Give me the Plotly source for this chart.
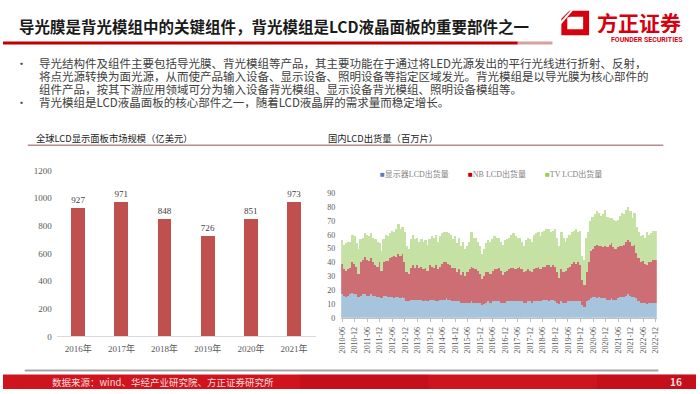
import plotly.graph_objects as go

W, H = 700, 394
def px(x): return x / W
def py(y): return 1 - y / H

# ---------------- data ----------------
years = ["2016年", "2017年", "2018年", "2019年", "2020年", "2021年"]
market = [927, 971, 848, 726, 851, 973]

all_months = [f"{y}-{m:02d}" for y in range(2010, 2023) for m in range(1, 13)]
months = all_months[all_months.index("2010-06"):all_months.index("2022-12") + 1]
tick_months = months[::6]

monitor = [17,16,15,16,17,18, 17,17,15,16,17,17, 16,16,17,16,16,15, 15,14,16,16,15,15,
           15,14,15,15,14,15, 14,12,12,13,13,13, 13,13,13,12,13,12, 13,13,13,12,12,13,
           13,13,14,13,13,12, 12,12,12,11,11,11, 11,11,12,11,11,11, 11,9,10,11,12,11,
           12,12,12,12,11,11, 11,12,12,12,12,12, 12,12,12,11,11,12, 12,11,12,12,12,12,
           13,13,13,12,13,13, 12,11,10,12,11,11, 12,12,12,12,12,12, 12,9,8,12,13,14,
           15,15,14,15,14,14, 14,13,13,14,13,13, 14,15,15,15,16,17, 16,15,15,14,12,11,
           11,11,10,11,11,11, 11]
nb = [22,19,19,19,19,22, 22,20,17,24,25,27, 26,25,26,24,22,22, 25,20,24,25,26,28,
      29,31,29,31,31,31, 26,21,20,23,25,23, 25,23,24,23,23,22, 25,24,23,26,23,24,
      26,27,26,26,25,24, 24,21,23,20,22,19, 22,24,25,25,24,23, 21,19,20,22,21,21,
      22,23,23,24,23,20, 22,22,23,24,24,23, 24,25,23,22,23,23, 22,22,23,24,25,23,
      24,24,25,26,24,25, 25,22,19,23,22,23, 24,25,27,28,27,28, 26,18,16,21,27,34,
      35,37,39,37,38,37, 38,38,40,40,38,37, 37,37,37,38,39,39, 39,37,38,33,31,29,
      30,28,28,29,29,31, 31]
tv = [17,18,20,20,19,20, 20,17,18,17,16,17, 18,18,18,18,19,18, 14,14,17,19,18,18,
      19,17,20,22,19,20, 22,19,18,21,22,21, 20,19,20,20,20,19, 19,22,22,22,20,22,
      22,22,22,22,22,21, 23,21,23,21,22,20, 19,20,25,22,23,21, 20,18,20,21,23,23,
      23,24,23,22,21,22, 23,23,23,24,25,24, 22,21,20,19,22,23, 23,22,25,25,25,24,
      25,26,26,26,25,25, 27,25,23,27,25,21, 22,23,23,23,25,22, 25,18,18,25,22,22,
      23,23,24,24,22,24, 26,22,19,18,20,20, 20,22,24,22,23,24, 22,20,23,19,19,19,
      19,19,24,20,21,21, 21]

series_names = ["显示器LCD出货量", "NB LCD出货量", "TV LCD出货量"]
series_values = [monitor, nb, tv]
legend_colors = ["#4f81bd", "#c00000", "#92d050"]
bar_colors = ["#a6c4dc", "#cc6e74", "#c6e1a4"]

# ---------------- styles ----------------
serif = "Liberation Serif, Noto Sans CJK SC, serif"
sans = "Noto Sans CJK SC, sans-serif"

fig = go.Figure()

fig.add_trace(go.Bar(
    x=years, y=market, width=0.32, marker=dict(color="#c0504d", line=dict(width=0)),
    text=market, textposition="outside", cliponaxis=False,
    textfont=dict(family=serif, size=9.5, color="#404040"),
    xaxis="x", yaxis="y", showlegend=False, hoverinfo="x+y"))

for name, vals, col in zip(series_names, series_values, bar_colors):
    fig.add_trace(go.Bar(
        x=months, y=vals, name=name, marker=dict(color=col, line=dict(width=0)),
        xaxis="x2", yaxis="y2", showlegend=False))

fig.update_layout(
    width=W, height=H, margin=dict(l=0, r=0, t=0, b=0),
    paper_bgcolor="white", plot_bgcolor="white",
    barmode="stack", bargap=0.15,
    xaxis=dict(domain=[px(54.2), px(315.8)], anchor="y", showgrid=False, showline=True,
               linecolor="#d9d9d9", linewidth=1, ticks="", ticklabelstandoff=4,
               tickfont=dict(family=serif, size=9, color="#595959")),
    yaxis=dict(domain=[py(340), py(170)], anchor="x", range=[0, 1200], dtick=200,
               showgrid=False, zeroline=False, showline=False, ticks="",
               ticklabelstandoff=4,
               tickfont=dict(family=serif, size=9, color="#595959")),
    xaxis2=dict(domain=[px(341.6), px(660.4)], anchor="y2", type="category",
                showgrid=False, showline=True, linecolor="#bfbfbf", linewidth=1,
                ticks="outside", ticklen=3, tickcolor="#bfbfbf", ticklabelstandoff=2,
                tickvals=tick_months, ticktext=tick_months, tickangle=-90,
                tickfont=dict(family=serif, size=8, color="#595959")),
    yaxis2=dict(domain=[py(320.9), py(193.3)], anchor="x2", range=[0, 90], dtick=10,
                showgrid=False, zeroline=False, showline=False, ticks="",
                ticklabelstandoff=5,
                tickfont=dict(family=serif, size=8, color="#595959")),
)

shapes = []
# title underline (red fading to grey)
shapes.append(dict(type="line", xref="paper", yref="paper", x0=px(0), x1=px(520),
                   y0=py(39), y1=py(39), line=dict(color="#c00000", width=3)))
shapes.append(dict(type="line", xref="paper", yref="paper", x0=px(520), x1=px(555),
                   y0=py(39), y1=py(39), line=dict(color="#d9a0a0", width=3)))
# chart title underline
shapes.append(dict(type="line", xref="paper", yref="paper", x0=px(25), x1=px(667),
                   y0=py(144), y1=py(144), line=dict(color="#b48c8c", width=1.5)))
# bottom grey line
shapes.append(dict(type="line", xref="paper", yref="paper", x0=px(22), x1=px(662),
                   y0=py(375), y1=py(375), line=dict(color="#a6a6a6", width=2)))
# red footer band
shapes.append(dict(type="rect", xref="paper", yref="paper", x0=0, x1=1,
                   y0=0, y1=py(379), fillcolor="#d0141e", line=dict(width=0), layer="below"))
shapes.append(dict(type="rect", xref="paper", yref="paper", x0=px(300), x1=px(430),
                   y0=0, y1=py(379), fillcolor="rgba(150,0,20,0.18)", line=dict(width=0), layer="below"))
shapes.append(dict(type="rect", xref="paper", yref="paper", x0=px(600), x1=1,
                   y0=0, y1=py(379), fillcolor="rgba(150,0,20,0.18)", line=dict(width=0), layer="below"))

# logo icon (chamfered red frame)
def path_from(points_list):
    parts = []
    for pts in points_list:
        s = "M " + " L ".join(f"{px(x):.5f},{py(y):.5f}" for x, y in pts) + " Z"
        parts.append(s)
    return " ".join(parts)

outer = [(572, 6), (592, 6), (592, 31), (564, 31), (564, 14)]
inner = [(570, 13), (570, 25), (586, 25), (586, 12), (573, 12)]
shapes.append(dict(type="path", xref="paper", yref="paper", path=path_from([outer, inner]),
                   fillcolor="#d7000f", line=dict(width=0)))
shapes.append(dict(type="line", xref="paper", yref="paper", x0=px(563), y0=py(19),
                   x1=px(575), y1=py(5), line=dict(color="white", width=2)))

annotations = []
def txt(text, x, y, size, color, family=sans, xanchor="left", yanchor="middle", bold=False, height=None):
    a = dict(text=(f"<b>{text}</b>" if bold else text), x=px(x), y=py(y),
             xref="paper", yref="paper", xanchor=xanchor, yanchor=yanchor,
             showarrow=False, font=dict(family=family, size=size, color=color))
    if height:
        a["height"] = height
    annotations.append(a)

txt("导光膜是背光模组中的关键组件，背光模组是LCD液晶面板的重要部件之一", 14, 22, 15.5, "#1a1a1a", bold=True)
txt("方正证券", 598, 17, 21, "#d7000f", bold=True, height=22)
txt("FOUNDER SECURITIES", 612, 36, 7, "#d7000f", family="Roboto, Liberation Sans, sans-serif",
    bold=True, height=8)

bullet_lines = [
    ("•", "导光结构件及组件主要包括导光膜、背光模组等产品，其主要功能在于通过将LED光源发出的平行光线进行折射、反射，"),
    ("", "将点光源转换为面光源，从而使产品输入设备、显示设备、照明设备等指定区域发光。背光模组是以导光膜为核心部件的"),
    ("", "组件产品，按其下游应用领域可分为输入设备背光模组、显示设备背光模组、照明设备模组等。"),
    ("•", "背光模组是LCD液晶面板的核心部件之一，随着LCD液晶屏的需求量而稳定增长。"),
]
for i, (b, line) in enumerate(bullet_lines):
    yy = 60 + i * 13.3
    if b:
        txt(b, 11, yy, 11, "#404040", height=12)
    txt(line, 34, yy, 11.5, "#404040", height=12)

txt("全球LCD显示面板市场规模（亿美元）", 31, 136, 9.3, "#1a1a1a")
txt("国内LCD出货量（百万片）", 326, 136, 9.3, "#1a1a1a")

# legend for right chart
legend_items = [(382, 0), (471, 1), (548, 2)]
for x0, k in legend_items:
    annotations.append(dict(
        text=f"<span style='color:{legend_colors[k]}'>■</span>{series_names[k]}",
        x=px(x0 - 3), y=py(173), xref="paper", yref="paper", xanchor="left", yanchor="middle",
        showarrow=False, font=dict(family=serif, size=8, color="#7f7f7f")))

txt("数据来源：wind、华经产业研究院、方正证券研究所", 47, 386.5, 9.5, "#f4dede")
txt("16", 688, 386.5, 10, "#f4dede", xanchor="right", bold=True)

fig.update_layout(shapes=shapes, annotations=annotations)
fig.write_html("out.html", config={"displayModeBar": False},
               post_script="document.body.style.margin='0';document.body.style.padding='0';"
                           "document.documentElement.style.overflow='hidden';")
